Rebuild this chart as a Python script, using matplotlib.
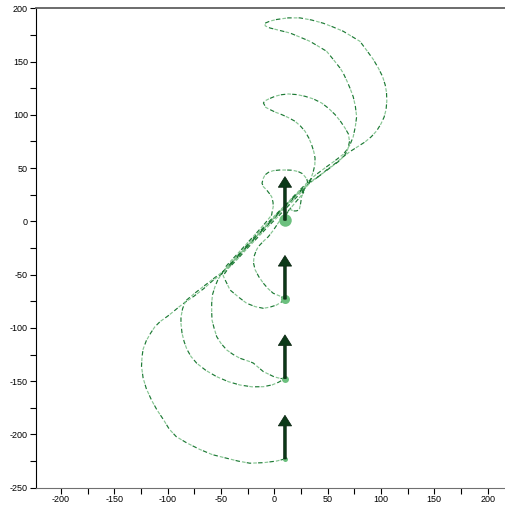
import matplotlib.pyplot as plt
from matplotlib.ticker import MultipleLocator

plt.rcParams['font.family'] = ['Liberation Sans', 'DejaVu Sans']
plt.rcParams['font.size'] = 6.5
plt.rcParams['axes.unicode_minus'] = False
plt.rcParams['lines.scale_dashes'] = False

# path from marker 4 up to marker 3 (big lobes)
seg_a_x = [10, 2, -10, -23, -34, -44, -58, -70, -82, -92, -98.5, -104, -110, -115, -120, -123, -124.5, -124,
           -123, -120, -116, -112, -107, -100, -95, -89, -83, -75, -66, -57, -48, -40, -30, -20, -10, 0, 10,
           20, 30, 40, 50, 58, 65, 71, 78, 85, 91, 96, 100, 103, 104.8, 105.5, 105.2, 104, 101.5, 97.5, 92.8,
           87, 80.3, 72, 64.7, 55, 45.9, 35, 24, 13, 2.2, -4, -8.7, -8.5, -4, 4, 14.7, 24, 33.4, 41, 49, 55.3,
           61.6, 64.7, 68, 71, 74, 76, 77.2, 76, 74, 71, 67.9, 64.7, 57, 48, 38, 30, 20, 10, 0, -10, -20, -30,
           -40, -48, -56, -65, -74, -83, -86, -87.5, -87.5, -86.5, -84.5, -82, -78, -72.7, -64, -54, -43,
           -32.2, -21, -10.3, -2, 4, 10]
seg_a_y = [-223, -225, -226.5, -227, -225, -222.5, -219, -214, -208, -202, -195, -186, -177, -168, -157, -147,
           -136, -127, -120, -112, -105, -99, -94, -89, -85, -80, -75.5, -70, -63, -55, -48.5, -40, -29, -18,
           -7.5, 3, 13, 23.5, 33.5, 41, 49, 55, 61, 65.5, 70, 74.5, 79.5, 85, 91.5, 98, 105, 113, 121, 128,
           136, 144, 152, 160, 169, 174, 178.4, 182.5, 186, 189, 191, 191, 189.5, 188, 186, 183.5, 181.5, 179.5,
           176.8, 173, 169, 164.5, 159.7, 152, 144, 139, 132, 125, 117, 108, 98.3, 89, 79.5, 72, 67, 63, 57,
           50.5, 43, 35.5, 25.5, 15, 5, -5.5, -16, -27, -38.5, -47, -53, -60, -67, -74.5, -82, -90, -96, -105,
           -113, -120, -127, -133.2, -140, -145.8, -150.5, -153.6, -155.3, -155.2, -153.5, -151, -147.5]

# path from marker 3 up to marker 2 (medium lobes)
seg_b_x = [10, 6, 0, -10.3, -19.7, -22.8, -32.2, -38.5, -44.6, -50, -54, -56.5, -58.4, -58.7, -58.7, -58,
           -55.6, -53, -48, -40, -30, -20, -10, 0, 10, 20, 32, 42, 52, 60, 66, 69, 70.5, 69.5, 66.3, 62, 57, 51,
           44.4, 36.5, 28.8, 21, 13.2, 6, 0.7, -5, -9, -10.2, -8, -4, 1, 7, 13, 19.4, 24.5, 28.8, 32.5, 35, 37,
           38.2, 38, 36.6, 34.5, 31.9, 25, 15, 5, -5, -15, -25, -35, -43, -48, -41.5, -33, -25.9, -18, -10.3,
           -4, 2.2, 7, 10]
seg_b_y = [-147.5, -147.5, -146, -141, -133, -131.7, -128.5, -125, -120.7, -114.5, -108.2, -100, -92.6, -85,
           -77, -69, -61.3, -55, -47, -38.5, -28, -17.5, -7, 3.5, 14, 24.5, 36, 42.5, 50, 56, 62, 68, 75, 82,
           87.6, 94, 100.2, 106, 111.1, 115, 117.4, 119, 119.6, 118.8, 117.4, 115, 113, 111.1, 107, 104.9,
           102.5, 100.2, 97.5, 94, 89.5, 84.6, 78, 72, 65.5, 59.5, 53, 47, 40.5, 34.4, 27, 16.5, 6, -4, -14.5,
           -25, -36, -44, -51, -64.4, -71.5, -76.9, -80, -81.6, -80.5, -78.5, -75.5, -73]

# path from marker 2 up to marker 1 (small lobes)
seg_c_x = [10, 5, -1, -6, -10.3, -14.5, -18, -19.5, -19, -17, -15, -10, -5.6, -1, 5, 10, 15, 20, 25, 31.5,
           30.5, 28.8, 26, 22.5, 17, 11.6, 5, -1, -5.5, -8.7, -10.5, -11.5, -10.3, -7.2, -4.5, -2.5, -1.2, -1,
           -2, -2.5, -8, -15, -25, -35, -42, -45.5, -44, -40, -30, -20, -10, 0, 10, 20, 26, 27.5, 25.6, 24.7,
           23.4, 20.5, 17.8, 14.7, 12, 10]
seg_c_y = [-73, -70, -67.5, -63, -58, -52, -45.4, -39, -33, -27.5, -23.7, -18.5, -14.4, -8.5, 0.5, 6.5, 12,
           18, 24, 35.8, 39.5, 42, 45, 46.7, 48, 48.2, 48.2, 47.6, 46, 43.6, 40, 35.8, 32.6, 29.5, 26, 23.2, 18,
           13.8, 9, 6, -1, -9, -20, -31, -38.5, -42.5, -44, -39.5, -28.5, -17.5, -6.5, 4, 14.5, 24.5, 29, 27,
           23.2, 17, 10.7, 9.8, 9.8, 11.4, 8, 1]

marker_x = [10, 10, 10, 10]
marker_y = [1, -73, -147.5, -223]
marker_size = [9, 6.5, 5.0, 3.6]
arrow_len = 41

fig = plt.figure(figsize=(5.05, 5.08), dpi=100)
ax = fig.add_axes([35.7 / 505, 20.3 / 508, 1 - 35.7 / 505, 479.4 / 508])

dark = '#1c7a34'
light = '#86c592'
for sx, sy in [(seg_a_x, seg_a_y), (seg_b_x, seg_b_y), (seg_c_x, seg_c_y)]:
    ax.plot(sx, sy, color=dark, lw=0.85, ls=(0, (3.2, 5.0)), zorder=2)
    ax.plot(sx, sy, color=light, lw=0.85, ls=(4.1, (2.6, 5.6)), zorder=2)

for mx, my, ms in zip(marker_x, marker_y, marker_size):
    ax.plot(mx, my, 'o', color='#6cc07e', ms=ms, mec='none', zorder=3)
    ax.arrow(mx, my, 0, arrow_len, width=2.4, head_width=12.5, head_length=10,
             length_includes_head=True, fc='#0c3a19', ec='#061f0c', lw=0.5, zorder=4)

ax.set_xlim(-223.7, 216.3)
ax.set_ylim(-250, 200)
ax.xaxis.set_major_locator(MultipleLocator(50))
ax.xaxis.set_minor_locator(MultipleLocator(25))
ax.yaxis.set_major_locator(MultipleLocator(50))
ax.yaxis.set_minor_locator(MultipleLocator(25))
ax.tick_params(which='both', direction='out', length=4.3, width=0.8, pad=1.2, labelsize=6.5)
ax.spines['right'].set_visible(False)
ax.spines['top'].set_color('#606060')
ax.spines['top'].set_linewidth(1.3)
ax.spines['bottom'].set_color('#707070')
ax.spines['left'].set_color('black')

fig.savefig('out.png', dpi=100)
